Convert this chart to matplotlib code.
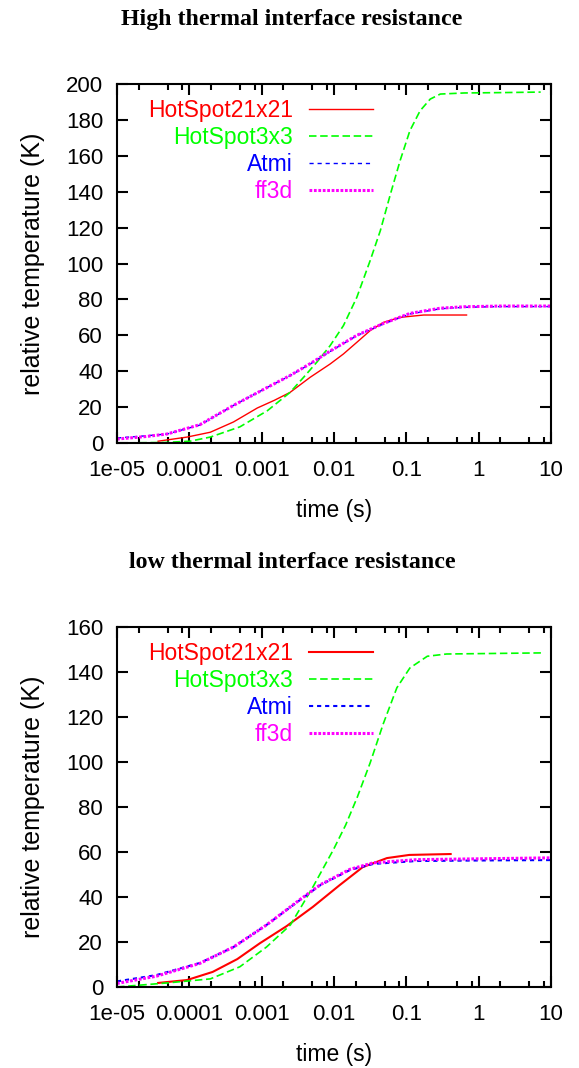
import matplotlib
matplotlib.use("Agg")
import matplotlib.pyplot as plt
from matplotlib.ticker import LogLocator, FixedLocator, NullFormatter, FuncFormatter

plt.rcParams['font.family'] = ['Liberation Sans', 'DejaVu Sans']

# ---- high thermal interface resistance ----
hi_hs21_t = [3.7e-5, 9.3e-5, 1.95e-4, 4.07e-4, 8.7e-4, 1.5e-3, 2.47e-3, 4.68e-3, 8.83e-3, 0.0135,
             0.0207, 0.0316, 0.0482, 0.082, 0.174, 0.68]
hi_hs21_T = [1, 3.3, 6, 11.7, 19.5, 23.8, 28.2, 36.6, 44, 49.6, 56.1, 62.6, 67.2, 70, 71.3, 71.3]

hi_hs3_t = [1e-5, 4.57e-5, 1.02e-4, 1.95e-4, 5.0e-4, 1.2e-3, 2.47e-3, 3.8e-3, 5.78e-3, 8.83e-3, 0.0135,
            0.0207, 0.0316, 0.0437, 0.0603, 0.082, 0.112, 0.155, 0.214, 0.295, 0.63, 2.0, 7.2]
hi_hs3_T = [0, 0.3, 1, 3.3, 9, 18, 28.2, 36.6, 45, 54.2, 65.4, 81.2, 101.6, 118.3, 138.7, 157.3,
            174, 185.1, 191.6, 194.4, 195, 195.2, 195.5]

hi_atmi_t = [1e-5, 2.5e-5, 4.9e-5, 1.4e-4, 4.1e-4, 1.2e-3, 2.47e-3, 4.68e-3, 8.83e-3, 0.0207, 0.0482,
             0.112, 0.295, 0.63, 2.0, 10]
hi_atmi_T = [2.8, 4, 5, 10, 21, 31, 37.5, 44, 51, 59.8, 66.3, 71.9, 74.8, 75.6, 76, 76]

hi_ff3d_t = [1e-5, 2.5e-5, 4.9e-5, 1.4e-4, 4.1e-4, 1.2e-3, 2.47e-3, 4.68e-3, 8.83e-3, 0.0207, 0.0482,
             0.112, 0.295, 0.63, 2.0, 10]
hi_ff3d_T = [2.2, 3.6, 5, 10.2, 21, 31, 37.6, 44.2, 51.2, 60, 66.6, 72.2, 75.1, 75.9, 76.3, 76.3]

# ---- low thermal interface resistance ----
lo_hs21_t = [3.7e-5, 9.3e-5, 2.1e-4, 4.6e-4, 9.5e-4, 2.2e-3, 5.1e-3, 0.012, 0.025, 0.054, 0.11, 0.41]
lo_hs21_T = [1.8, 3.1, 6.7, 12.4, 19.5, 27, 35.6, 45.3, 53.3, 57.3, 58.7, 59.1]

lo_hs3_t = [1e-5, 4.9e-5, 1.95e-4, 5e-4, 1.17e-3, 2.5e-3, 5.1e-3, 9.8e-3, 0.0145, 0.021, 0.0316,
            0.048, 0.074, 0.112, 0.195, 0.36, 8]
lo_hs3_T = [0, 1.8, 3.6, 9, 17.8, 27.6, 44.4, 61, 72, 84.4, 99.6, 117, 133, 141.8, 147, 148, 148.5]

lo_atmi_t = [1e-5, 3.5e-5, 1.4e-4, 4.1e-4, 1.17e-3, 3.4e-3, 6.5e-3, 0.0166, 0.035, 0.14, 2.0, 10]
lo_atmi_T = [2.5, 5.3, 10.7, 17.8, 27.6, 38.7, 45.3, 52, 54.7, 56, 56.3, 56.4]

lo_ff3d_t = [1e-5, 3.5e-5, 1.4e-4, 4.1e-4, 1.17e-3, 3.4e-3, 6.5e-3, 0.0166, 0.035, 0.14, 2.0, 10]
lo_ff3d_T = [1.6, 4.8, 10.5, 17.8, 27.6, 38.9, 45.5, 52.3, 55.2, 56.6, 57.1, 57.4]

labels = ['HotSpot21x21', 'HotSpot3x3', 'Atmi', 'ff3d']
titles = ['High thermal interface resistance', 'low thermal interface resistance']
ymax = [200, 160]
xticks = [1e-5, 1e-4, 1e-3, 1e-2, 1e-1, 1, 10]
xticklabels = ['1e-05', '0.0001', '0.001', '0.01', '0.1', '1', '10']


def draw_panel(ax, series, top, thick):
    (t21, T21), (t3, T3), (ta, Ta), (tf, Tf) = series
    lw = 1.5 if thick else 1.0
    ax.plot(t21, T21, color='#ff0000', lw=lw, label=labels[0])
    ax.plot(t3, T3, color='#00ff00', lw=1.2, dashes=(4.5, 2.2), label=labels[1])
    ax.plot(ta, Ta, color='#0000ff', lw=lw, dashes=(3.0 / lw, 2.8 / lw), label=labels[2])
    ax.plot(tf, Tf, color='#ff00ff', lw=2.2, dashes=(0.9, 0.55), label=labels[3])

    ax.set_xscale('log')
    ax.set_xlim(1e-5, 10)
    ax.set_ylim(0, top)
    ax.xaxis.set_major_locator(FixedLocator(xticks))
    ax.xaxis.set_major_formatter(FuncFormatter(lambda v, p: xticklabels[xticks.index(v)] if v in xticks else ''))
    ax.xaxis.set_minor_locator(LogLocator(base=10, subs=(2, 5, 8), numticks=20))
    ax.xaxis.set_minor_formatter(NullFormatter())
    ax.set_yticks(range(0, top + 1, 20))
    ax.tick_params(which='major', direction='in', length=8, width=1.5, top=True, right=True,
                   labelsize=16)
    ax.tick_params(axis='x', which='major', pad=12)
    ax.tick_params(axis='y', which='major', pad=10)
    ax.tick_params(which='minor', direction='in', length=4.5, width=1.5, top=True, right=True)
    for s in ax.spines.values():
        s.set_linewidth(1.5)

    ax.set_xlabel('time (s)', fontsize=16.5, labelpad=13)
    ax.set_ylabel('relative temperature (K)', fontsize=18, labelpad=15)

    ax.legend(loc='upper right', bbox_to_anchor=(0.59, 0.958), frameon=False, markerfirst=False,
              labelcolor='linecolor', fontsize=16.5, handlelength=2.8, handletextpad=0.7,
              labelspacing=0.17, borderpad=0, borderaxespad=0)


fig = plt.figure(figsize=(5.79, 10.68), dpi=100)
ax1 = fig.add_axes([117 / 579, 1 - 443 / 1068, 434 / 579, 359 / 1068])
ax2 = fig.add_axes([117 / 579, 1 - 987 / 1068, 434 / 579, 360 / 1068])

draw_panel(ax1, [(hi_hs21_t, hi_hs21_T), (hi_hs3_t, hi_hs3_T), (hi_atmi_t, hi_atmi_T), (hi_ff3d_t, hi_ff3d_T)],
           ymax[0], False)
draw_panel(ax2, [(lo_hs21_t, lo_hs21_T), (lo_hs3_t, lo_hs3_T), (lo_atmi_t, lo_atmi_T), (lo_ff3d_t, lo_ff3d_T)],
           ymax[1], True)

fig.text(292 / 579, 1 - 20 / 1068, titles[0], ha='center', va='center',
         family=['Liberation Serif', 'DejaVu Serif'], fontweight='bold', fontsize=17.2)
fig.text(292 / 579, 1 - 562 / 1068, titles[1], ha='center', va='center',
         family=['Liberation Serif', 'DejaVu Serif'], fontweight='bold', fontsize=17.2)

fig.savefig('out.png', dpi=100)
